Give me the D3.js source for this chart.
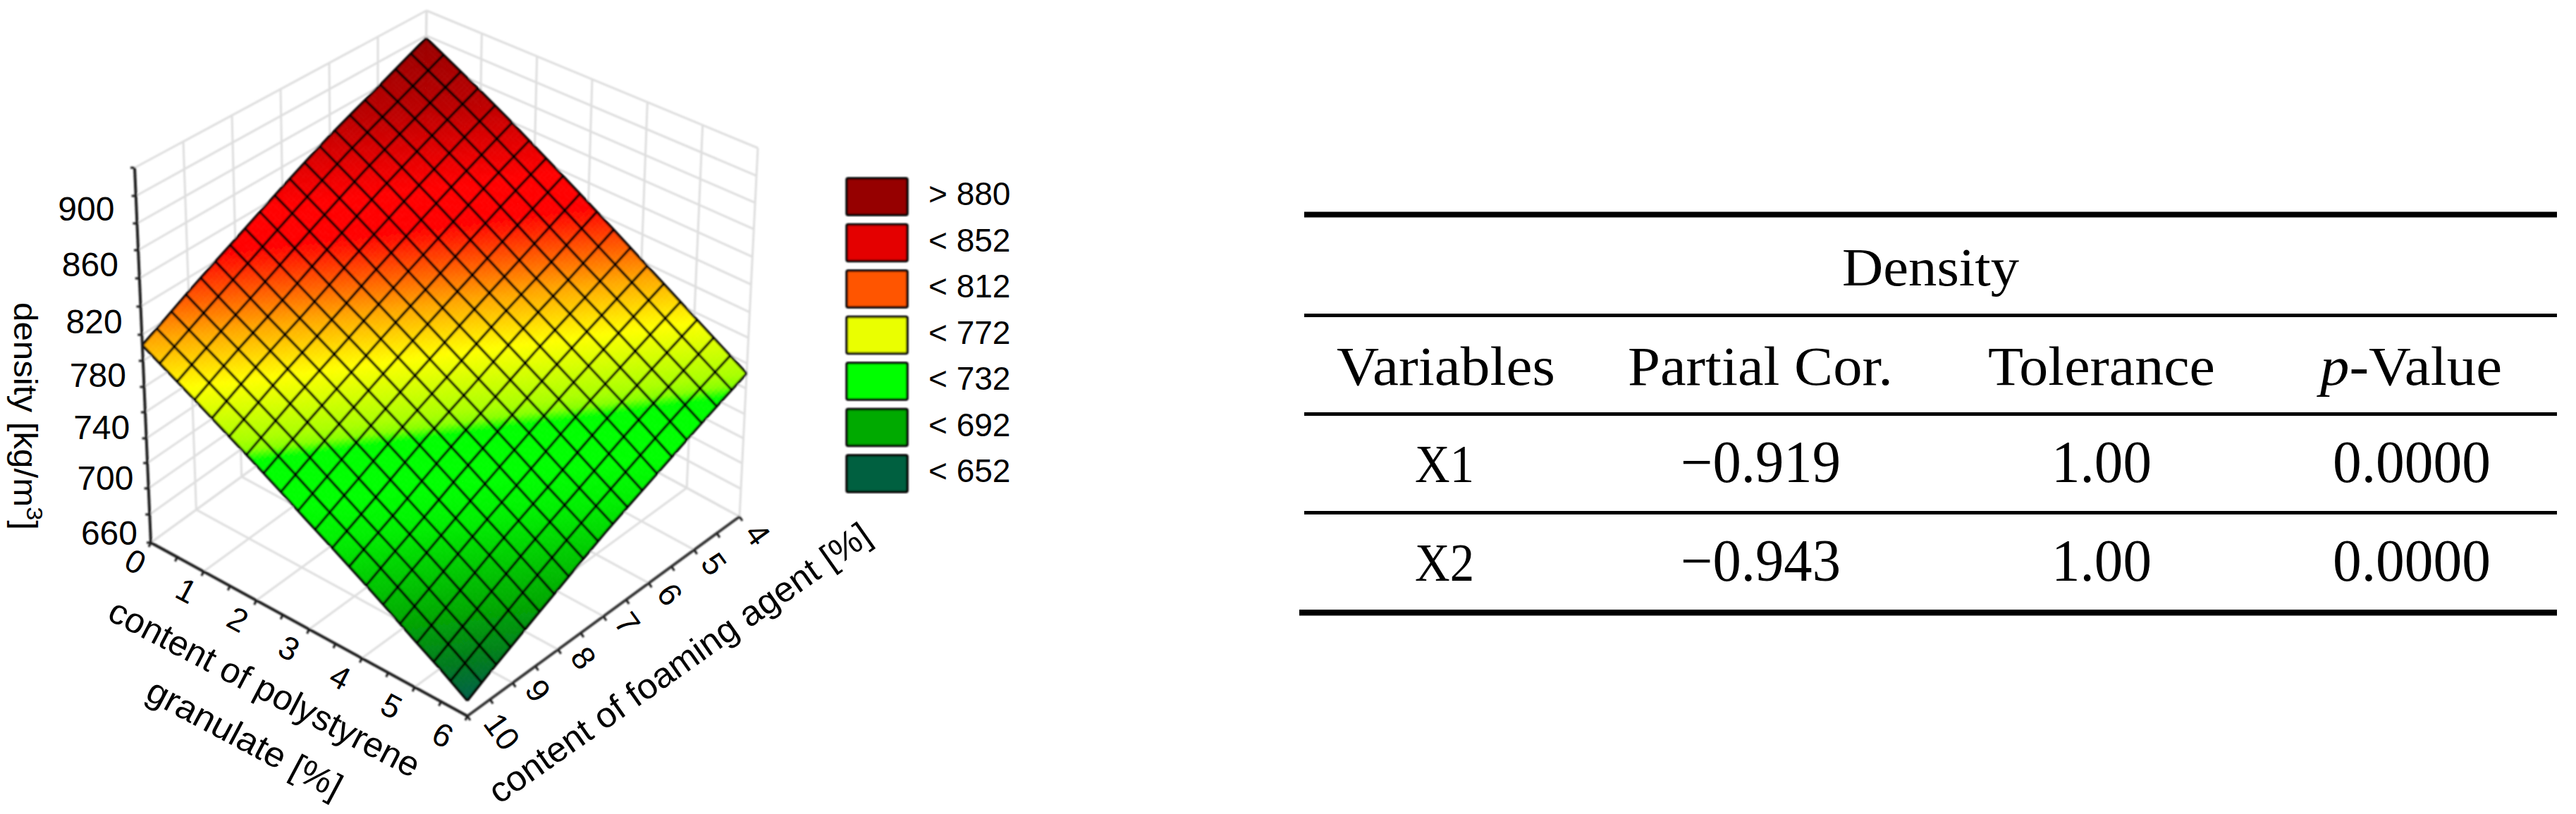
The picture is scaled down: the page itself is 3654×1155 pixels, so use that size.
<!DOCTYPE html>
<html><head><meta charset="utf-8"><style>html,body{margin:0;background:#fff}svg{display:block}</style>
<script src="https://cdn.jsdelivr.net/npm/d3@7/dist/d3.min.js"></script></head><body><div id="c"></div>
<script>
// ---- data ----
const polystyrene = [0,1,2,3,4,5,6];
const foaming = [4,5,6,7,8,9,10];
// density: rows = polystyrene 0..6, columns = foaming agent 4..10
const density = [
 [918,900,883,865,847,830,812],
 [894,876,859,841,823,806,788],
 [869,852,834,817,799,782,764],
 [845,827,810,792,775,757,740],
 [821,803,786,768,751,733,716],
 [796,779,762,744,727,709,692],
 [772,755,738,721,703,686,670]];
const zLabels = [660,700,740,780,820,860,900];
const zGrid = [660,680,700,720,740,760,780,800,820,840,860,880,900,920,940];
const zGridY = [770,730,693,657,622,585,549,512,475,435,395,355,317,278,238];
const legendLabels = ["> 880","< 852","< 812","< 772","< 732","< 692","< 652"];
const legendColors = ["#960000","#e40000","#ff5500","#eaff00","#00ff00","#00aa00","#006040"];
const rampValues = [670,682,700,732,745,764,768,772,794,814,828,843,858,869,889,918];
const rampColors = ["#00604a","#007a1e","#00aa00","#00f000","#00ff00","#00ff00","#88ff00","#aaff00","#ffff00","#ffa500","#ff5500","#ff0000","#ff0000","#e80000","#bb0000","#980000"];
const tableTitle = "Density";
const tableHead = ["Variables","Partial Cor.","Tolerance","-Value"];
const tableRows = [["X1","\u22120.919","1.00","0.0000"],["X2","\u22120.943","1.00","0.0000"]];
const meshCells = 19, sub = 6;

const W=3654,H=1155;
const svg=d3.select("#c").append("svg").attr("width",W).attr("height",H).attr("viewBox",`0 0 ${W} ${H}`);
const defs=svg.append("defs");
defs.append("filter").attr("id","soft").attr("x","-5%").attr("y","-5%").attr("width","110%").attr("height","110%")
  .append("feGaussianBlur").attr("stdDeviation",0.9);
const sans="'Liberation Sans',Arial,sans-serif", serif="'Liberation Serif',serif";

// ---- 3D box: scales map data to unit cube, unit cube corners map to the page
const sx=d3.scaleLinear().domain([0,6]).range([0,1]);
const sy=d3.scaleLinear().domain([10,4]).range([0,1]);
const sz=d3.scaleLinear().domain(zGrid).range(zGridY.map(y=>(770-y)/532)).clamp(false);
const corners={ // [u (x), v (y), w (z)]
 f000:[214,770], f100:[663,1016], f110:[1049,733], f010:[600,489],
 t000:[191,238], t100:[661,434],  t110:[1075,210], t010:[605,15]};
function project(x,y,z){
 const u=sx(x),v=sy(y),w=sz(z);
 const bl=(a,b,c,d,i)=>(1-u)*(1-v)*a[i]+u*(1-v)*b[i]+u*v*c[i]+(1-u)*v*d[i];
 const c=corners;
 const px=i=>(1-w)*bl(c.f000,c.f100,c.f110,c.f010,i)+w*bl(c.t000,c.t100,c.t110,c.t010,i);
 return [px(0),px(1)];
}
const line=d3.line();
const color=d3.scaleLinear().domain(rampValues).range(rampColors).clamp(true);
function valueAt(x,y){ // table lookup between the read grid nodes
 const i=Math.min(5,Math.floor(x)),j=Math.min(5,Math.floor(y-4));
 const a=x-i,b=y-4-j;
 return (1-a)*(1-b)*density[i][j]+a*(1-b)*density[i+1][j]+a*b*density[i+1][j+1]+(1-a)*b*density[i][j+1];
}

const chart=svg.append("g").attr("filter","url(#soft)");
// walls and floor grid
const grid=chart.append("g").attr("fill","none").attr("stroke","#dedede").attr("stroke-width",3);
const seg=(a,b)=>grid.append("path").attr("d",line([a,b]));
zGrid.forEach(z=>{seg(project(0,10,z),project(0,4,z));seg(project(0,4,z),project(6,4,z));});
polystyrene.forEach(x=>{seg(project(x,4,660),project(x,4,940));seg(project(x,10,660),project(x,4,660));});
foaming.forEach(y=>{seg(project(0,y,660),project(0,y,940));seg(project(0,y,660),project(6,y,660));});

// surface
const surf=chart.append("g");
const N=meshCells*sub;
const xt=d3.scaleLinear().domain([0,N]).range([0,6]), yt=d3.scaleLinear().domain([0,N]).range([4,10]);
const cells=d3.cross(d3.range(N),d3.range(N));
surf.selectAll("path").data(cells).join("path")
 .attr("d",([i,j])=>{
   const P=(a,b)=>project(xt(a),yt(b),valueAt(xt(a),yt(b)));
   return line([P(i,j),P(i+1,j),P(i+1,j+1),P(i,j+1)])+"Z";})
 .attr("fill",([i,j])=>color(valueAt(xt(i+.5),yt(j+.5))))
 .attr("stroke",([i,j])=>color(valueAt(xt(i+.5),yt(j+.5))))
 .attr("stroke-width",0.8);
// mesh
const mesh=chart.append("g").attr("fill","none").attr("stroke","#000").attr("stroke-width",3.6);
const fine=d3.range(0,1.0001,1/12);
d3.range(meshCells+1).forEach(k=>{
  const a=k/meshCells;
  mesh.append("path").attr("d",line(fine.map(t=>{const x=a*6,y=4+t*6;return project(x,y,valueAt(x,y));})));
  mesh.append("path").attr("d",line(fine.map(t=>{const x=t*6,y=4+a*6;return project(x,y,valueAt(x,y));})));
});

// axes
const axes=chart.append("g").attr("fill","none").attr("stroke","#1a1a1a").attr("stroke-width",4);
axes.append("path").attr("d",line([project(0,10,940),project(0,10,660),project(6,10,660)]));
axes.append("path").attr("d",line([project(6,10,660),project(6,4,660)])).attr("stroke","#333");
const tick=(p,dx,dy)=>axes.append("path").attr("stroke-width",3).attr("d",line([p,[p[0]+dx,p[1]+dy]]));
zGrid.forEach(z=>tick(project(0,10,z),-6,0));
d3.range(0,6.01,.5).forEach(x=>tick(project(x,10,660),-3,6));
d3.range(4,10.01,.5).forEach(y=>tick(project(6,y,660),4,6));

// tick labels
const txt=svg.append("g").attr("font-family",sans).attr("fill","#000");
txt.selectAll(".z").data(zLabels).join("text").attr("class","z").attr("font-size",48).attr("text-anchor","end")
 .attr("x",z=>project(0,10,z)[0]-19-(z-660)/240*13)
 .attr("y",z=>project(0,10,z)[1]+3-(z-660)/240*7)
 .text(z=>z);
const xOffX=d3.scaleLinear().domain([0,6]).range([-22,-35]);
txt.selectAll(".x").data(polystyrene).join("text").attr("class","x").attr("font-size",46).attr("text-anchor","middle").attr("dominant-baseline","central")
 .attr("transform",x=>{const p=project(x,10,660);return `translate(${p[0]+xOffX(x)},${p[1]+27}) rotate(28)`;})
 .text(x=>x);
const yOff=[[26,25],[28,20],[30,16],[34,10],[36,12],[36,11],[49,22]];
txt.selectAll(".y").data(foaming).join("text").attr("class","y").attr("font-size",46).attr("text-anchor","middle").attr("dominant-baseline","central")
 .attr("transform",(y,i)=>{const p=project(6,y,660);return `translate(${p[0]+yOff[i][0]},${p[1]+yOff[i][1]}) rotate(54)`;})
 .text(y=>y);
// axis titles
const title=(s,x,y,rot,len)=>txt.append("text").attr("font-size",50).attr("transform",`translate(${x},${y}) rotate(${rot})`).attr("textLength",len).attr("lengthAdjust","spacingAndGlyphs").text(s);
title("content of polystyrene",150,878,27.5,490);
title("granulate [%]",204,991,28,306);
title("content of foaming agent [%]",708,1142,-35.2,650);
const dt=txt.append("text").attr("font-size",46).attr("transform","translate(20,429) rotate(90)").attr("textLength",323).attr("lengthAdjust","spacingAndGlyphs");
dt.append("tspan").text("density [kg/m");
dt.append("tspan").attr("dy",-18).attr("font-size",32).text("3");
dt.append("tspan").attr("dy",18).text("]");

// legend
const lY=d3.scalePoint().domain(d3.range(legendLabels.length)).range([253,646]);
const leg=svg.append("g");
const lg=leg.selectAll("g").data(legendLabels).join("g");
lg.append("rect").attr("x",1201).attr("y",(d,i)=>lY(i)).attr("width",86).attr("height",52).attr("rx",2)
 .attr("fill",(d,i)=>legendColors[i]).attr("stroke","#000").attr("stroke-width",3.5).attr("filter","url(#soft)");
lg.append("text").attr("x",1317).attr("y",(d,i)=>lY(i)+38).attr("font-family",sans).attr("font-size",46).text(d=>d);

// table
const tbl=svg.append("g").attr("font-family",serif).attr("fill","#000").attr("font-size",78);
const rule=(y,h,x0=1850)=>tbl.append("rect").attr("x",x0).attr("y",y).attr("width",3627-x0).attr("height",h);
rule(300.5,8); rule(445,5); rule(585,5); rule(725,5); rule(865,8.5,1843);
const cell=(s,x0,x1,y,fs)=>tbl.append("text").attr("x",x0).attr("y",y).attr("font-size",fs).attr("textLength",x1-x0).attr("lengthAdjust","spacingAndGlyphs").text(s);
cell(tableTitle,2613,2864,404.5,76);
const headX=[[1896,2206],[2309,2685],[2820,3142]];
tableHead.slice(0,3).forEach((s,i)=>cell(s,headX[i][0],headX[i][1],545.6,78));
const pv=tbl.append("text").attr("x",3291).attr("y",545.6).attr("textLength",258).attr("lengthAdjust","spacingAndGlyphs");
pv.append("tspan").attr("font-style","italic").text("p");
pv.append("tspan").text(tableHead[3]);
const colX=[[2007,2091],[2384,2611],[2910,3052],[3309,3533]];
const colFs=[76,84,84,84];
const rowY=[684,824];
tableRows.forEach((r,k)=>r.forEach((s,i)=>cell(s,colX[i][0],colX[i][1],rowY[k],colFs[i])));
</script></body></html>
